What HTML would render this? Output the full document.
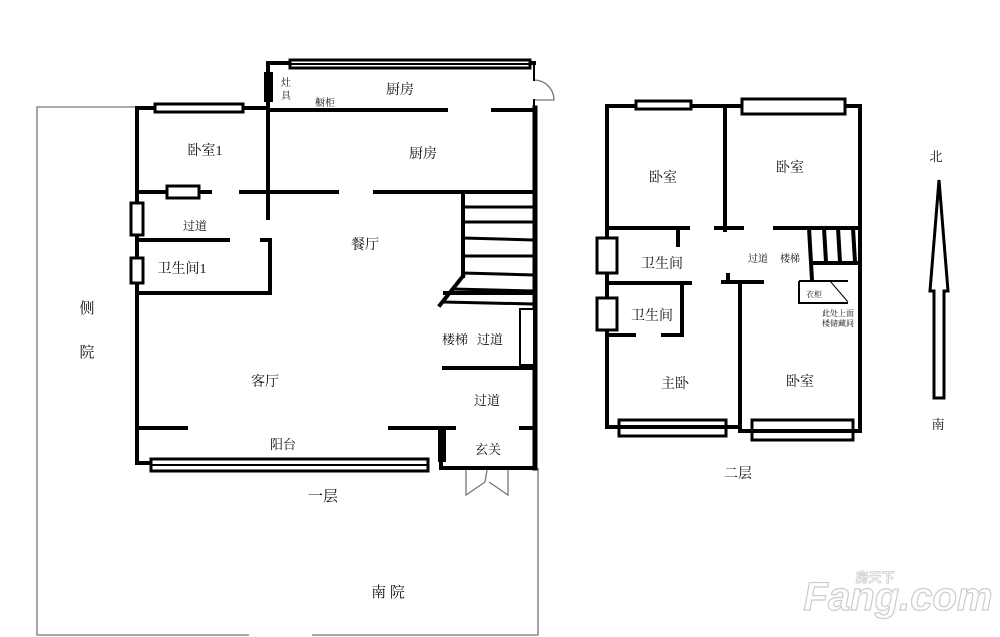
<!DOCTYPE html>
<html><head><meta charset="utf-8"><style>
html,body{margin:0;padding:0;background:#fff;}
svg{display:block;}
text{font-family:"Liberation Serif","Noto Serif CJK SC","Noto Sans CJK SC",serif;fill:#111;}
</style></head><body>
<svg width="1000" height="637" viewBox="0 0 1000 637" xmlns="http://www.w3.org/2000/svg">
<rect width="1000" height="637" fill="#fff"/>
<!-- yard thin lines -->
<g stroke="#777" stroke-width="1.3" fill="none">
<polyline points="137,107 37,107 37,635 249,635"/>
<polyline points="312,635 538,635 538,468"/>
<path d="M534,80 A20,20 0 0 1 554,100 L534,100"/>
<path d="M466,469 L466,495 L485,482 M508,469 L508,495 L489,482 M485,482 L487,470"/>
</g>
<!-- floor 1 walls -->
<g stroke="#000" stroke-width="4" fill="none" stroke-linecap="square">
<polyline points="268,108 268,63 534,63"/>
<line x1="534" y1="63" x2="534" y2="80" stroke-width="2"/>
<line x1="534" y1="100" x2="534" y2="108" stroke-width="2"/>
<line x1="535" y1="108" x2="535" y2="468" stroke-width="5"/>
<line x1="137" y1="108" x2="268" y2="108"/>
<line x1="268" y1="110" x2="446" y2="110"/>
<line x1="493" y1="110" x2="534" y2="110"/>
<line x1="137" y1="108" x2="137" y2="463"/>
<line x1="268" y1="108" x2="268" y2="218"/>
<line x1="137" y1="192" x2="210" y2="192"/>
<line x1="241" y1="192" x2="337" y2="192"/>
<line x1="375" y1="192" x2="534" y2="192"/>
<line x1="137" y1="240" x2="228" y2="240"/>
<polyline points="262,240 270,240 270,293 137,293"/>
<line x1="463" y1="192" x2="463" y2="276"/>
<line x1="463" y1="276" x2="440" y2="305"/>
<line x1="445" y1="293" x2="534" y2="293"/>
<line x1="444" y1="368" x2="534" y2="368"/>
<line x1="137" y1="428" x2="186" y2="428"/>
<line x1="390" y1="428" x2="454" y2="428"/>
<line x1="521" y1="428" x2="534" y2="428"/>
<polyline points="137,463 150,463"/>
<polyline points="441,430 441,468 535,468"/>
</g>
<g stroke="#000" stroke-width="3">
<line x1="463" y1="207" x2="534" y2="207"/>
<line x1="463" y1="222" x2="534" y2="222"/>
<line x1="463" y1="238" x2="534" y2="240"/>
<line x1="463" y1="256" x2="534" y2="256"/>
<line x1="463" y1="273" x2="534" y2="275"/>
<line x1="452" y1="289" x2="534" y2="291"/>
<line x1="443" y1="302" x2="534" y2="304"/>
</g>
<!-- windows floor 1 -->
<g stroke="#000" stroke-width="3" fill="#fff">
<rect x="155" y="104" width="88" height="8"/>
<rect x="290" y="60" width="240" height="8"/>
<rect x="167" y="186" width="32" height="12"/>
<rect x="131" y="203" width="12" height="32"/>
<rect x="131" y="258" width="12" height="25"/>
<rect x="151" y="459" width="277" height="12"/>
<rect x="520" y="309" width="14" height="56" stroke-width="2"/>
</g>
<rect x="264" y="72" width="9" height="30" fill="#000"/>
<rect x="438" y="430" width="8" height="32" fill="#000"/>
<line x1="151" y1="465" x2="428" y2="465" stroke="#000" stroke-width="2"/>
<line x1="290" y1="64" x2="530" y2="64" stroke="#000" stroke-width="2"/>
<!-- floor 2 walls -->
<g stroke="#000" stroke-width="4" fill="none" stroke-linecap="square">
<polyline points="607,427 607,106 860,106 860,430"/>
<line x1="607" y1="427" x2="738" y2="427"/>
<line x1="740" y1="431" x2="860" y2="431"/>
<line x1="725" y1="106" x2="725" y2="230"/>
<line x1="607" y1="228" x2="688" y2="228"/>
<line x1="716" y1="228" x2="742" y2="228"/>
<line x1="775" y1="228" x2="860" y2="228"/>
<line x1="678" y1="230" x2="678" y2="245"/>
<line x1="607" y1="283" x2="690" y2="283"/>
<line x1="682" y1="283" x2="682" y2="335"/>
<line x1="607" y1="335" x2="634" y2="335"/>
<line x1="663" y1="335" x2="682" y2="335"/>
<line x1="728" y1="275" x2="728" y2="282"/>
<line x1="723" y1="282" x2="762" y2="282"/>
<line x1="740" y1="282" x2="740" y2="431"/>
<line x1="809" y1="228" x2="812" y2="280"/>
<line x1="824" y1="228" x2="826" y2="262"/>
<line x1="838" y1="228" x2="840" y2="262"/>
<line x1="853" y1="228" x2="855" y2="262"/>
<line x1="812" y1="263" x2="860" y2="263"/>
</g>
<g stroke="#000" stroke-width="2" fill="none">
<polyline points="799,281 799,303 848,303"/>
<line x1="799" y1="281" x2="848" y2="281"/>
<line x1="830" y1="281" x2="848" y2="302" stroke-width="1"/>
</g>
<g stroke="#000" stroke-width="3" fill="#fff">
<rect x="636" y="101" width="55" height="8"/>
<rect x="742" y="99" width="103" height="15"/>
<rect x="597" y="238" width="20" height="35"/>
<rect x="597" y="298" width="20" height="32"/>
<rect x="619" y="420" width="107" height="16"/>
<rect x="752" y="420" width="101" height="20"/>
</g>
<line x1="619" y1="427" x2="726" y2="427" stroke="#000" stroke-width="4"/>
<line x1="752" y1="431" x2="853" y2="431" stroke="#000" stroke-width="4"/>
<!-- arrow -->
<polygon points="939,180 948,291 944,291 944,398 934,398 934,291 930,291" fill="#fff" stroke="#000" stroke-width="3"/>
<!-- labels -->
<g font-size="14" text-anchor="middle">
<text x="400" y="94">厨房</text>
<text x="423" y="158">厨房</text>
<text x="205" y="155">卧室1</text>
<text x="195" y="230" font-size="12">过道</text>
<text x="182" y="273">卫生间1</text>
<text x="365" y="249">餐厅</text>
<text x="455" y="344" font-size="13">楼梯</text>
<text x="490" y="344" font-size="13">过道</text>
<text x="487" y="405" font-size="13">过道</text>
<text x="488" y="454" font-size="13">玄关</text>
<text x="265" y="386">客厅</text>
<text x="283" y="449" font-size="13">阳台</text>
<text x="323" y="501" font-size="15">一层</text>
<text x="87" y="313" font-size="15">侧</text>
<text x="87" y="357" font-size="15">院</text>
<text x="388" y="597" font-size="15">南 院</text>
<text x="663" y="182">卧室</text>
<text x="790" y="172">卧室</text>
<text x="662" y="268">卫生间</text>
<text x="652" y="320">卫生间</text>
<text x="675" y="388">主卧</text>
<text x="800" y="386">卧室</text>
<text x="738" y="478" font-size="14">二层</text>
<text x="936" y="161" font-size="13">北</text>
<text x="938" y="429" font-size="13">南</text>
</g>
<g font-size="10" text-anchor="middle">
<text x="286" y="86">灶</text>
<text x="286" y="99">具</text>
<text x="325" y="106">橱柜</text>
<text x="758" y="262">过道</text>
<text x="790" y="262">楼梯</text>
<text x="814" y="297" font-size="8">衣柜</text>
<text x="838" y="316" font-size="8">此处上面</text>
<text x="838" y="326" font-size="8">楼储藏间</text>
</g>
<text x="875" y="582" text-anchor="middle" style="font-family:'Liberation Sans','Noto Sans CJK SC',sans-serif;font-size:13px;font-weight:bold;fill:#fff;stroke:#ccc;stroke-width:0.8">房天下</text>
<text x="898" y="610" text-anchor="middle" style="font-family:'Liberation Sans',sans-serif;font-size:40px;font-weight:bold;font-style:italic;fill:#fff;stroke:#ccc;stroke-width:1.2">Fang.com</text>
</svg>
</body></html>
